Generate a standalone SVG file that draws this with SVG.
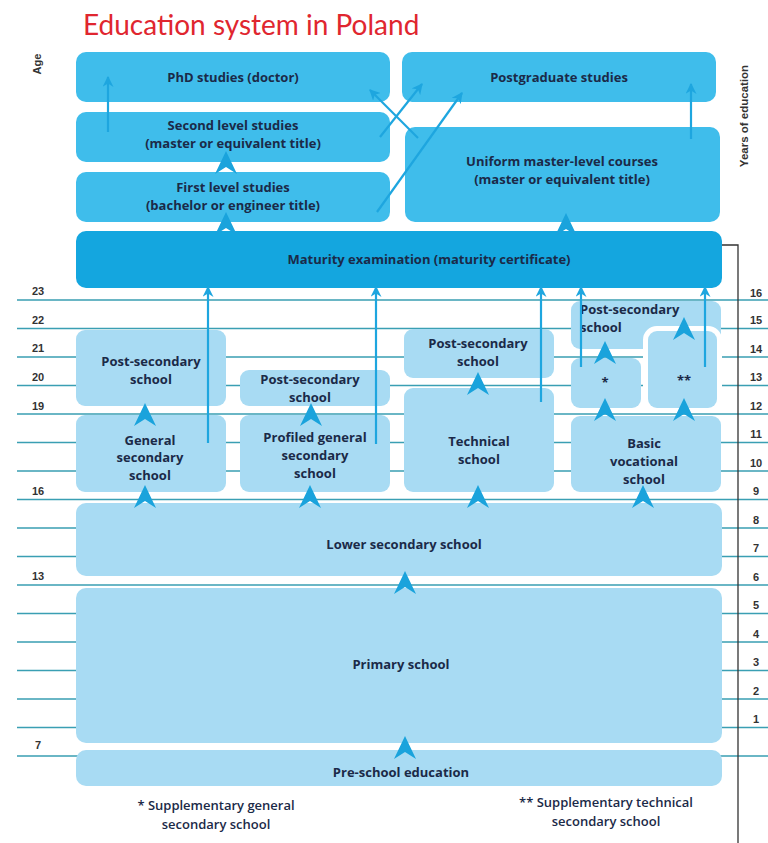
<svg xmlns="http://www.w3.org/2000/svg" xmlns:xlink="http://www.w3.org/1999/xlink" width="768" height="843" viewBox="0 0 768 843">
<style>
.top{fill:#3fbdeb}
.mat{fill:#14a6df}
.lt{fill:#a8dbf3}
.t{font-family:"Open Sans",Lato,"Liberation Sans",sans-serif;font-weight:bold;font-size:13px;fill:#1b2a48;text-anchor:middle}
.f{font-family:"Open Sans",Lato,"Liberation Sans",sans-serif;font-weight:600;font-size:13px;fill:#1b2a48;text-anchor:middle}
.n{font-family:"Liberation Sans",Arial,sans-serif;font-weight:bold;font-size:11px;fill:#333;text-anchor:middle}
.ah{fill:#1aa3dc}
.th{stroke:#1ea6df;stroke-width:2.2;fill:none;marker-end:url(#m)}
</style>
<defs>
<path id="ah" d="M0,0 L11,23 L0,16 L-11,23 Z"/>
<marker id="m" viewBox="0 0 10 10" refX="9" refY="5" markerWidth="5" markerHeight="5" orient="auto" markerUnits="strokeWidth">
<path d="M0,0 L10,5 L0,10 L3,5 Z" fill="#1ea6df"/>
</marker>
</defs>
<rect width="768" height="843" fill="#fff"/>
<text x="83" y="35" font-family="Lato,'Open Sans',sans-serif" font-size="28" fill="#e0262f">Education system in Poland</text>
<text class="n" transform="translate(41,64) rotate(-90)">Age</text>
<text class="n" transform="translate(748,116) rotate(-90)" style="font-size:11.5px">Years of education</text>

<g id="grid">
<path d="M17,300H768M17,328.5H768M17,357H768M17,385.5H768M17,414H768M17,442.5H768M17,471H768M17,499.5H768M17,528H768M17,556.5H768M17,585H768M17,613.5H768M17,642H768M17,670.5H768M17,699H768M17,727.5H768M17,756H768" stroke="#3a9fb3" stroke-width="1.3" fill="none"/>
<path d="M722,245H738V843" stroke="#333" stroke-width="1.3" fill="none"/>
<text class="n" x="38" y="295">23</text>
<text class="n" x="38" y="324">22</text>
<text class="n" x="38" y="352">21</text>
<text class="n" x="38" y="381">20</text>
<text class="n" x="38" y="410">19</text>
<text class="n" x="38" y="495">16</text>
<text class="n" x="38" y="580">13</text>
<text class="n" x="38" y="749">7</text>
<text class="n" x="756" y="297">16</text>
<text class="n" x="756" y="324">15</text>
<text class="n" x="756" y="353">14</text>
<text class="n" x="756" y="381">13</text>
<text class="n" x="756" y="410">12</text>
<text class="n" x="756" y="438">11</text>
<text class="n" x="756" y="467">10</text>
<text class="n" x="756" y="495">9</text>
<text class="n" x="756" y="524">8</text>
<text class="n" x="756" y="552">7</text>
<text class="n" x="756" y="581">6</text>
<text class="n" x="756" y="609">5</text>
<text class="n" x="756" y="638">4</text>
<text class="n" x="756" y="666">3</text>
<text class="n" x="756" y="695">2</text>
<text class="n" x="756" y="723">1</text>
</g>

<g id="phd"><rect class="top" x="76" y="52" width="314" height="50" rx="10"/><text class="t" x="233" y="82">PhD studies (doctor)</text></g>
<g id="second"><rect class="top" x="76" y="112" width="314" height="50" rx="10"/><text class="t" x="233" y="130">Second level studies</text><text class="t" x="233" y="148">(master or equivalent title)</text></g>
<g id="first"><rect class="top" x="76" y="172" width="314" height="50" rx="10"/><text class="t" x="233" y="192">First level studies</text><text class="t" x="233" y="210">(bachelor or engineer title)</text></g>
<g id="postgrad"><rect class="top" x="402" y="52" width="314" height="50" rx="10"/><text class="t" x="559" y="82">Postgraduate studies</text></g>
<g id="uniform"><rect class="top" x="405" y="127" width="315" height="95" rx="10"/><text class="t" x="562" y="166">Uniform master-level courses</text><text class="t" x="562" y="184">(master or equivalent title)</text></g>
<g id="maturity"><rect class="mat" x="76" y="231" width="646" height="57" rx="10"/><text class="t" x="429" y="264">Maturity examination (maturity certificate)</text></g>

<g id="postsec1"><rect class="lt" x="76" y="330" width="150" height="76" rx="9"/><text class="t" x="151" y="366">Post-secondary</text><text class="t" x="151" y="384">school</text></g>
<g id="general"><rect class="lt" x="76" y="415" width="150" height="77" rx="9"/><text class="t" x="150" y="445">General</text><text class="t" x="150" y="462">secondary</text><text class="t" x="150" y="480">school</text></g>
<g id="postsec2"><rect class="lt" x="240" y="370" width="150" height="36" rx="9"/><text class="t" x="310" y="384">Post-secondary</text><text class="t" x="310" y="402">school</text></g>
<g id="profiled"><rect class="lt" x="240" y="415" width="150" height="77" rx="9"/><text class="t" x="315" y="442">Profiled general</text><text class="t" x="315" y="460">secondary</text><text class="t" x="315" y="478">school</text></g>
<g id="postsec3"><rect class="lt" x="404" y="329" width="150" height="49" rx="9"/><text class="t" x="478" y="348">Post-secondary</text><text class="t" x="478" y="366">school</text></g>
<g id="technical"><rect class="lt" x="404" y="388" width="150" height="104" rx="9"/><text class="t" x="479" y="446">Technical</text><text class="t" x="479" y="464">school</text></g>
<g id="postsec4"><rect class="lt" x="571" y="301" width="150" height="48" rx="9"/><text class="t" x="580" y="314" style="text-anchor:start">Post-secondary</text><text class="t" x="580" y="332" style="text-anchor:start">school</text></g>
<g id="suppgen"><rect class="lt" x="571" y="358" width="70" height="50" rx="9"/><text class="t" x="605" y="387">*</text></g>
<g id="supptech"><rect class="lt" x="648" y="331" width="69" height="77" rx="9" stroke="#fff" stroke-width="10" paint-order="stroke"/><text class="t" x="684" y="385">**</text></g>
<g id="basic"><rect class="lt" x="571" y="416" width="150" height="76" rx="9"/><text class="t" x="644" y="448">Basic</text><text class="t" x="644" y="466">vocational</text><text class="t" x="644" y="484">school</text></g>
<g id="lower"><rect class="lt" x="76" y="503" width="646" height="73" rx="10"/><text class="t" x="404" y="549">Lower secondary school</text></g>
<g id="primary"><rect class="lt" x="76" y="588" width="646" height="155" rx="10"/><text class="t" x="401" y="669">Primary school</text></g>
<g id="preschool"><rect class="lt" x="76" y="750" width="646" height="36" rx="10"/><text class="t" x="401" y="777">Pre-school education</text></g>

<g id="connectors">
<path class="th" d="M108,132V77"/>
<path class="th" d="M691,139V84"/>
<path class="th" d="M418,138L370,90"/>
<path class="th" d="M380,137L422,84"/>
<path class="th" d="M377,212L462,93"/>
<path class="th" d="M208,443V287"/>
<path class="th" d="M376,444V287"/>
<path class="th" d="M541,402V287"/>
<path class="th" d="M581,367V287"/>
<path class="th" d="M705,367V287"/>
<g class="ah">
<use xlink:href="#ah" x="405" y="736"/>
<use xlink:href="#ah" x="405" y="571"/>
<use xlink:href="#ah" x="145" y="485"/>
<use xlink:href="#ah" x="310" y="485"/>
<use xlink:href="#ah" x="478" y="485"/>
<use xlink:href="#ah" x="643" y="485"/>
<use xlink:href="#ah" x="145" y="403"/>
<use xlink:href="#ah" x="311" y="403"/>
<use xlink:href="#ah" x="478" y="372"/>
<use xlink:href="#ah" x="605" y="398"/>
<use xlink:href="#ah" x="684" y="398"/>
<use xlink:href="#ah" x="605" y="341"/>
<use xlink:href="#ah" x="684" y="317"/>
<use xlink:href="#ah" x="226" y="212"/>
<use xlink:href="#ah" x="226" y="151"/>
<use xlink:href="#ah" x="566" y="213"/>
</g>
</g>
<g id="notes">
<text class="f" x="216" y="810">* Supplementary general</text>
<text class="f" x="216" y="829">secondary school</text>
<text class="f" x="606" y="807">** Supplementary technical</text>
<text class="f" x="606" y="826">secondary school</text>
</g>
</svg>
